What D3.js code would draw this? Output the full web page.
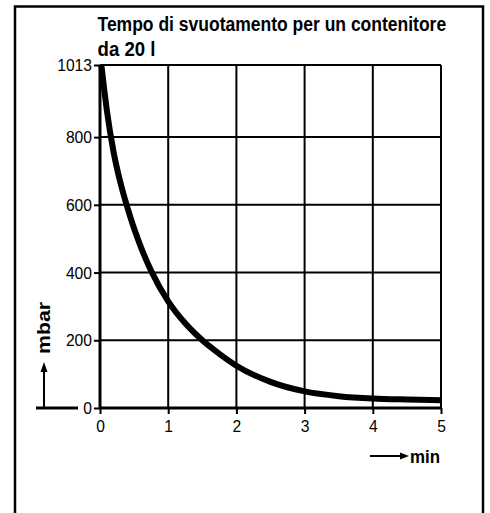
<!DOCTYPE html>
<html>
<head>
<meta charset="utf-8">
<script src="https://cdn.jsdelivr.net/npm/d3@7"></script>
<style>
  html, body { margin: 0; padding: 0; background: #fff; }
  svg { display: block; }
  text { font-family: "Liberation Sans", Arial, sans-serif; fill: #000; }
</style>
</head>
<body>
<svg id="chart" width="490" height="513"></svg>
<script>
// ---- data ----
const titleLines = ["Tempo di svuotamento per un contenitore", "da 20 l"];
const time = [0.02, 0.1, 0.2, 0.3, 0.4, 0.5, 0.6, 0.75, 1.0, 1.25, 1.5, 1.75, 2.0, 2.5, 3.0, 3.5, 4.0, 4.5, 5.0];
const pressure = [1013, 880, 755, 665, 593, 530, 475, 405, 315, 250, 200, 160, 125, 77, 49, 35, 28, 25, 23];
const xTicks = [0, 1, 2, 3, 4, 5];
const yTicks = [0, 200, 400, 600, 800, 1013];
const xLabel = "min";
const yLabel = "mbar";

const svg = d3.select("#chart");

// narrow a text element horizontally (reference uses a condensed face)
function narrow(sel, factor) {
  sel.each(function () {
    const len = this.getComputedTextLength();
    d3.select(this).attr("textLength", len * factor).attr("lengthAdjust", "spacingAndGlyphs");
  });
}
// place a text scaled horizontally to a target width
function fitText(parent, tx, ty, str, size, width, rotate) {
  const g = parent.append("g");
  const t = g.append("text").style("font-size", size + "px").style("font-weight", "bold").text(str);
  const len = t.node().getComputedTextLength();
  if (rotate) t.attr("text-anchor", "middle");
  g.attr("transform", `translate(${tx},${ty})${rotate ? " rotate(-90)" : ""} scale(${width / len},1)`);
  return g;
}

// frame (open at bottom)
svg.append("path")
  .attr("d", "M15,513 L15,6.5 L483,6.5 L483,513")
  .attr("fill", "none").attr("stroke", "#000").attr("stroke-width", 2.5);

const x = d3.scaleLinear().domain([0, 5]).range([100, 441]);
const y = d3.scaleLinear().domain([0, 1013]).range([408, 65]);

// grid
const grid = svg.append("g");
grid.selectAll("line.v").data(xTicks.filter(d => d > 0)).join("line")
  .attr("x1", d => x(d)).attr("x2", d => x(d))
  .attr("y1", y(1013)).attr("y2", y(0))
  .attr("stroke", "#000").attr("stroke-width", 2);
grid.selectAll("line.h").data(yTicks.filter(d => d > 0)).join("line")
  .attr("x1", x(0)).attr("x2", x(5))
  .attr("y1", d => y(d)).attr("y2", d => y(d))
  .attr("stroke", "#000").attr("stroke-width", 2);

// axes
const xAxis = d3.axisBottom(x).tickValues(xTicks).tickSize(6).tickPadding(6).tickFormat(d3.format("d"));
const yAxis = d3.axisLeft(y).tickValues(yTicks).tickSize(6).tickPadding(2).tickFormat(d3.format("d"));

const gx = svg.append("g").attr("transform", `translate(0,${y(0)})`).call(xAxis);
const gy = svg.append("g").attr("transform", `translate(${x(0)},0)`).call(yAxis);
[gx, gy].forEach(g => {
  g.select(".domain").attr("stroke", "#000").attr("stroke-width", 3);
  g.selectAll(".tick line").attr("stroke", "#000").attr("stroke-width", 2);
  g.selectAll(".tick text").style("font-size", "17px").attr("fill", "#000")
    .style("font-family", '"Liberation Sans", Arial, sans-serif');
  narrow(g.selectAll(".tick text"), 0.92);
});
gx.select(".domain").attr("d", `M${x(0)},0H${x(5)}`);
gy.select(".domain").attr("d", `M0,${y(1013)}V${y(0)}`);

// curve
const pts = time.map((t, i) => [t, pressure[i]]);
svg.append("path")
  .datum(pts)
  .attr("fill", "none").attr("stroke", "#000").attr("stroke-width", 6)
  .attr("stroke-linejoin", "round")
  .attr("d", d3.line().x(d => x(d[0])).y(d => y(d[1])).curve(d3.curveMonotoneX));

// title
fitText(svg, 97.5, 30.5, titleLines[0], 20.5, 349, false);
fitText(svg, 97.5, 55.5, titleLines[1], 20.5, 58, false);

// y label with arrow
svg.append("line").attr("x1", 36).attr("x2", 78).attr("y1", y(0)).attr("y2", y(0))
  .attr("stroke", "#000").attr("stroke-width", 3);
svg.append("line").attr("x1", 44).attr("x2", 44).attr("y1", y(0)).attr("y2", 370)
  .attr("stroke", "#000").attr("stroke-width", 2);
svg.append("path").attr("d", "M44,362 L40.5,372 L47.5,372 Z").attr("fill", "#000");
fitText(svg, 50, 328, yLabel, 18, 52, true);

// x label with arrow
svg.append("line").attr("x1", 370).attr("x2", 402).attr("y1", 456).attr("y2", 456)
  .attr("stroke", "#000").attr("stroke-width", 2);
svg.append("path").attr("d", "M409,456 L400,452.5 L400,459.5 Z").attr("fill", "#000");
fitText(svg, 410, 462.5, xLabel, 19, 30, false);
</script>
</body>
</html>
